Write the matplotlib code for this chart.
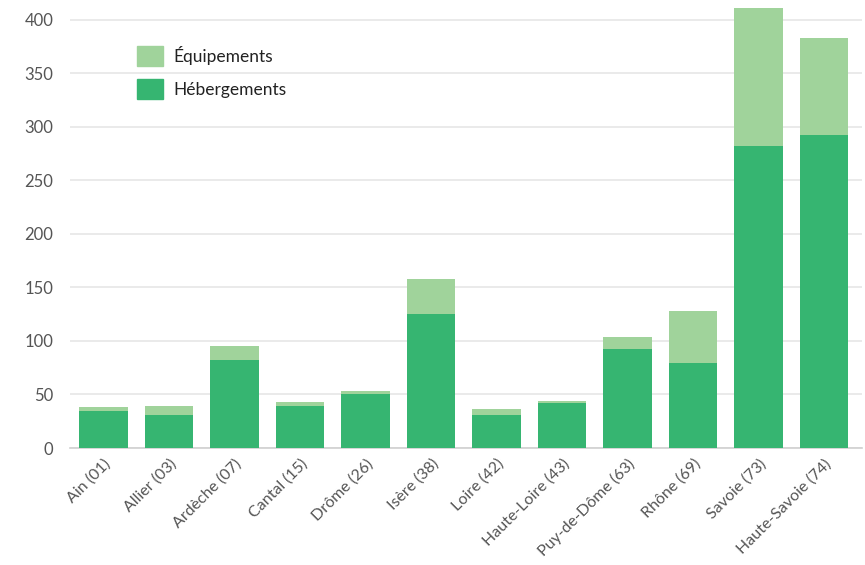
import numpy as np
import matplotlib
matplotlib.use("Agg")
import matplotlib.pyplot as plt
from matplotlib.patches import Patch

departements = ["Ain (01)", "Allier (03)", "Ardèche (07)", "Cantal (15)", "Drôme (26)",
                "Isère (38)", "Loire (42)", "Haute-Loire (43)", "Puy-de-Dôme (63)",
                "Rhône (69)", "Savoie (73)", "Haute-Savoie (74)"]
hebergements = [35, 31, 82, 39, 50, 125, 31, 42, 92, 79, 282, 292]
equipements = [3, 8, 13, 4, 3, 33, 5, 2, 12, 49, 129, 91]

dark_green = "#36b571"
light_green = "#a0d39b"
text_col = "#555555"

plt.rcParams["font.family"] = ["Lato", "DejaVu Sans"]

fig = plt.figure(figsize=(8.65, 5.65), dpi=100)
ax = fig.add_axes([0.081, 0.207, 0.915, 0.783])

x = np.arange(len(departements))
ax.bar(x, hebergements, width=0.74, color=dark_green, zorder=3)
ax.bar(x, equipements, width=0.74, bottom=hebergements, color=light_green, zorder=3)

ax.set_xlim(-0.51, len(departements) - 0.43)
ax.set_ylim(0, 413)
ax.set_yticks(np.arange(0, 401, 50))
ax.yaxis.grid(True, color="#e6e6e6", linewidth=1.2, zorder=0)
ax.set_axisbelow(True)

for s in ["top", "right", "left"]:
    ax.spines[s].set_visible(False)
ax.spines["bottom"].set_color("#d0d0d0")
ax.spines["bottom"].set_linewidth(1.2)

ax.tick_params(axis="both", length=0, colors=text_col, labelsize=12)
ax.tick_params(axis="y", pad=12)
ax.tick_params(axis="x", labelsize=11.5, pad=6)
ax.set_xticks(x)
ax.set_xticklabels(departements, rotation=45, ha="right", rotation_mode="anchor")

handles = [Patch(color=light_green, label="Équipements"),
           Patch(color=dark_green, label="Hébergements")]
leg = ax.legend(handles=handles, loc="upper left", bbox_to_anchor=(0.065, 0.945),
                frameon=False, fontsize=12.5, handlelength=1.5, handleheight=1.4,
                labelspacing=0.75, handletextpad=0.6)
for t in leg.get_texts():
    t.set_color("#222222")

fig.savefig("out.png", dpi=100)
